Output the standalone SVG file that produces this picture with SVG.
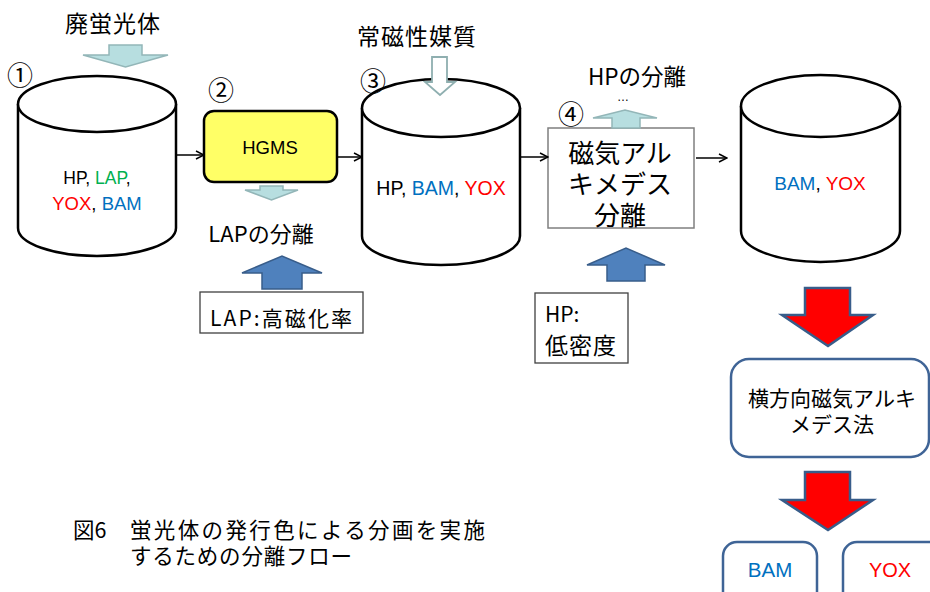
<svg xmlns="http://www.w3.org/2000/svg" width="930" height="592" viewBox="0 0 930 592">
<style>
text{font-family:"Liberation Sans","Noto Sans CJK JP",sans-serif;fill:#000}
.jp{font-family:"Noto Sans CJK JP","Liberation Sans",sans-serif}
.cyl{fill:#fff;stroke:#000;stroke-width:2.5}
.lt{fill:#B7DEE0;stroke:#93B6B8;stroke-width:1.5}
.hol{fill:#fff;stroke:#8FAFB0;stroke-width:1.8}
.blu{fill:#4F81BD;stroke:#385D8A;stroke-width:1.5}
.red{fill:#FF0000;stroke:#385D8A;stroke-width:2.5}
.conn{stroke:#000;stroke-width:1.5;fill:none}
.g{fill:#00B050}.r{fill:#FF0000}.b{fill:#0070C0}
.num{font-family:"Noto Sans CJK JP",sans-serif;font-size:26px;text-anchor:middle;fill:#000}
.rbox{fill:#fff;stroke:#3F6496;stroke-width:2.5}
</style>
<defs>
<marker id="open" viewBox="0 0 10 10" refX="9" refY="5" markerWidth="10" markerHeight="10" markerUnits="userSpaceOnUse" orient="auto">
<path d="M1,1 L9,5 L1,9" fill="none" stroke="#000" stroke-width="1.5"/>
</marker>
</defs>
<rect width="930" height="592" fill="#fff"/>

<g id="input-label">
<text class="jp" x="113" y="32" font-size="23" text-anchor="middle" letter-spacing="1">廃蛍光体</text>
<path class="lt" d="M109,45 H142 V55 H168 L125.5,67 L83,55 H109 Z"/>
</g>

<g id="cyl1">
<path class="cyl" d="M18,104 V228 A79,28 0 0 0 176,228 V104"/>
<ellipse class="cyl" cx="97" cy="104" rx="79" ry="28"/>
<text x="97" y="184" font-size="17.5" text-anchor="middle">HP, <tspan class="g">LAP</tspan>,</text>
<text x="97" y="210" font-size="18.5" text-anchor="middle"><tspan class="r">YOX</tspan>, <tspan class="b">BAM</tspan></text>
<text class="num" x="20" y="85">①&#xFE0E;</text>
</g>

<g id="hgms">
<rect x="204" y="111" width="133" height="71" rx="10" fill="#FFFF66" stroke="#000" stroke-width="2.5"/>
<text x="270" y="154" font-size="18.5" text-anchor="middle">HGMS</text>
<text class="num" x="221" y="100">②&#xFE0E;</text>
<path class="lt" d="M260,186 H283 V190 H298 L271.5,200 L245,190 H260 Z"/>
<text class="jp" x="261" y="242" font-size="22" text-anchor="middle">LAPの分離</text>
</g>

<g id="lap-prop">
<path class="blu" d="M262,289 V273 H242 L282,256 L322,273 H302 V289 Z"/>
<rect x="200" y="292" width="163" height="41" fill="#fff" stroke="#404040" stroke-width="1.3"/>
<text class="jp" x="210" y="326" font-size="21" textLength="142" lengthAdjust="spacing">LAP:高磁化率</text>
</g>

<g id="cyl3">
<path class="cyl" d="M362,108 V236 A79,29 0 0 0 520,236 V108"/>
<ellipse class="cyl" cx="441" cy="108" rx="79" ry="29"/>
<text x="441" y="195" font-size="19.5" text-anchor="middle">HP, <tspan class="b">BAM</tspan>, <tspan class="r">YOX</tspan></text>
<text class="num" x="373" y="91">③&#xFE0E;</text>
</g>

<g id="medium">
<text class="jp" x="417" y="45" font-size="23" text-anchor="middle" letter-spacing="1">常磁性媒質</text>
<path class="hol" d="M432,57 H447 V82 H455 L440,95 L425,82 H432 Z"/>
</g>

<g id="mag-arch">
<rect x="548" y="128" width="146" height="100" fill="#fff" stroke="#7F7F7F" stroke-width="1.5"/>
<text class="jp" x="620" y="163" font-size="26" text-anchor="middle">磁気アル</text>
<text class="jp" x="620" y="194" font-size="26" text-anchor="middle">キメデス</text>
<text class="jp" x="620" y="225" font-size="26" text-anchor="middle">分離</text>
<text class="num" x="571" y="124">④&#xFE0E;</text>
<path class="lt" d="M612,128 V118 H593 L625,110 L657,118 H640 V128 Z"/>
<text x="623" y="101" font-size="12" fill="#444" text-anchor="middle">…</text>
<text class="jp" x="637" y="85" font-size="22.5" text-anchor="middle">HPの分離</text>
</g>

<g id="hp-prop">
<path class="blu" d="M607,281 V265 H587 L626,248 L665,265 H645 V281 Z"/>
<rect x="535" y="293" width="93" height="70" fill="#fff" stroke="#404040" stroke-width="1.3"/>
<text class="jp" x="545" y="322" font-size="21">HP:</text>
<text class="jp" x="545" y="354" font-size="23" letter-spacing="1">低密度</text>
</g>

<g id="cyl5">
<path class="cyl" d="M741,106 V231 A79.5,31 0 0 0 900,231 V106"/>
<ellipse class="cyl" cx="820.5" cy="106" rx="79.5" ry="31"/>
<text x="820" y="190" font-size="19" text-anchor="middle"><tspan class="b">BAM</tspan>, <tspan class="r">YOX</tspan></text>
</g>

<g id="lateral">
<path class="red" d="M805,288 H850 V315 H873 L828,346 L782,315 H805 Z"/>
<rect class="rbox" x="731" y="359" width="198" height="98" rx="18"/>
<text class="jp" x="832" y="406" font-size="21" text-anchor="middle">横方向磁気アルキ</text>
<text class="jp" x="832" y="432" font-size="21" text-anchor="middle">メデス法</text>
<path class="red" d="M805,472 H850 V500 H873 L828,530 L782,500 H805 Z"/>
</g>

<g id="bam-out">
<rect class="rbox" x="723" y="542" width="94" height="70" rx="14"/>
<text x="770" y="577" font-size="20.5" text-anchor="middle" class="b">BAM</text>
</g>
<g id="yox-out">
<rect class="rbox" x="843" y="542" width="100" height="70" rx="14"/>
<text x="890" y="577" font-size="20" text-anchor="middle" class="r">YOX</text>
</g>

<g id="connectors">
<line class="conn" x1="176" y1="155" x2="204" y2="155" marker-end="url(#open)"/>
<line class="conn" x1="337" y1="157" x2="362" y2="157" marker-end="url(#open)"/>
<line class="conn" x1="520" y1="157" x2="548" y2="157" marker-end="url(#open)"/>
<line class="conn" x1="696" y1="158" x2="727" y2="158" marker-end="url(#open)"/>
</g>

<g id="caption">
<text class="jp" x="73" y="538" font-size="21.5">図6</text>
<text class="jp" x="130" y="538" font-size="21.5" textLength="355" lengthAdjust="spacing">蛍光体の発行色による分画を実施</text>
<text class="jp" x="130" y="564" font-size="21.5" textLength="222" lengthAdjust="spacing">するための分離フロー</text>
</g>
</svg>
